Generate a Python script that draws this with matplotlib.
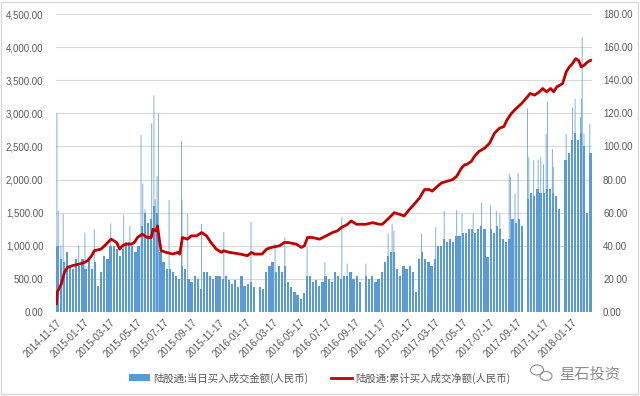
import numpy as np
import pandas as pd
import matplotlib
matplotlib.use('Agg')
import matplotlib.pyplot as plt
from matplotlib.ticker import FuncFormatter, MultipleLocator
from matplotlib.patches import Rectangle, Patch, Ellipse
from matplotlib.lines import Line2D

# typical daily buy turnover per week (Mon-Fri), first week starts 2014-11-17
week_start = '2014-11-17'
weekly_buy = [
    1000, 800, 750, 900, 700, 650, 800, 700, 800, 650,
    800, 650, 750, 400, 600, 850, 800, 1000, 1000, 950,
    850, 950, 1050, 1050, 1000, 900, 1000, 1300, 1500, 1350,
    1400, 1600, 1500, 900, 750, 650, 650, 600, 550, 500,
    700, 650, 500, 450, 550, 500, 350, 600, 600, 550,
    500, 550, 550, 500, 550, 480, 420, 480, 380, 550,
    400, 420, 450, 380, 0, 380, 350, 600, 700, 750,
    600, 700, 600, 700, 450, 380, 300, 250, 200, 280,
    550, 550, 450, 480, 400, 450, 550, 500, 450, 600,
    550, 500, 550, 550, 600, 500, 550, 450, 0, 550,
    500, 550, 450, 500, 600, 750, 850, 900, 900, 650,
    550, 700, 650, 700, 600, 300, 800, 900, 800, 750,
    700, 800, 1000, 1000, 1100, 1050, 1100, 1050, 1150, 1150,
    1200, 1200, 1250, 1250, 1200, 1250, 1300, 1250, 830, 1250,
    1200, 1300, 1250, 1100, 1050, 1100, 1400, 1350, 1400, 1300,
    0, 1700, 1800, 1750, 1850, 1800, 1800, 1850, 1850, 1800,
    1750, 1550, 0, 2300, 2400, 2600, 2700, 2600, 2700, 2500,
    1500, 2400,
]

# single days well above the weekly level
spike_dates = [
    '2014-11-17', '2014-11-20', '2014-11-26', '2014-12-01', '2015-01-05',
    '2015-01-19', '2015-02-09', '2015-03-18', '2015-04-16', '2015-04-30',
    '2015-05-25', '2015-05-29', '2015-06-03', '2015-06-18', '2015-06-23',
    '2015-06-26', '2015-06-30', '2015-07-03', '2015-07-27', '2015-08-24',
    '2015-08-25', '2015-09-07', '2015-10-08', '2015-11-27', '2016-01-27',
    '2016-03-21', '2016-04-12', '2016-06-01', '2016-07-11', '2016-08-18',
    '2016-08-30', '2016-10-11', '2016-11-30', '2016-12-09', '2016-12-13',
    '2017-02-13', '2017-03-17', '2017-04-05', '2017-05-03', '2017-05-15',
    '2017-06-09', '2017-06-28', '2017-07-18', '2017-07-31', '2017-08-08',
    '2017-08-29', '2017-09-01', '2017-09-11', '2017-09-18', '2017-10-09',
    '2017-10-12', '2017-10-23', '2017-11-02', '2017-11-08', '2017-11-14',
    '2017-11-20', '2017-11-23', '2017-12-04', '2017-12-06', '2018-01-04',
    '2018-01-18', '2018-01-24', '2018-02-05', '2018-02-07', '2018-02-09',
    '2018-02-13', '2018-02-26',
]
spike_values = [
    3000, 1530, 1000, 1480, 1000,
    1200, 1250, 1340, 1460, 1300,
    2670, 1940, 1550, 2850, 3270,
    1700, 2050, 3000, 1690, 2580,
    1700, 1480, 1330, 1210, 1360,
    1030, 1130, 980, 750, 1430,
    730, 730, 1180, 1330, 1230,
    1180, 1280, 1530, 1540, 1480,
    1480, 1650, 1610, 1530, 1480,
    2090, 2040, 1790, 2100, 3070,
    2340, 2290, 2300, 2340, 2230,
    2690, 3170, 2460, 2190, 2690,
    3090, 3220, 2940, 3220, 4150,
    2690, 2840,
]

# cumulative net buy (right axis)
cum_dates = [
    '2014-11-17', '2014-11-19', '2014-11-28', '2014-12-05', '2014-12-12',
    '2014-12-23', '2015-01-08', '2015-01-19', '2015-01-26', '2015-02-04',
    '2015-02-10', '2015-02-25', '2015-03-05', '2015-03-16', '2015-03-20',
    '2015-04-01', '2015-04-08', '2015-04-14', '2015-04-23', '2015-05-04',
    '2015-05-11', '2015-05-18', '2015-05-29', '2015-06-09', '2015-06-18',
    '2015-06-22', '2015-06-29', '2015-07-02', '2015-07-06', '2015-07-10',
    '2015-07-22', '2015-08-05', '2015-08-17', '2015-08-21', '2015-08-27',
    '2015-09-07', '2015-09-16', '2015-09-28', '2015-10-09', '2015-10-20',
    '2015-10-30', '2015-11-11', '2015-11-23', '2015-11-27', '2015-12-11',
    '2016-01-04', '2016-01-20', '2016-01-29', '2016-02-05', '2016-02-22',
    '2016-03-03', '2016-03-14', '2016-04-01', '2016-04-12', '2016-04-19',
    '2016-05-09', '2016-05-20', '2016-05-27', '2016-06-03', '2016-06-14',
    '2016-06-30', '2016-07-15', '2016-07-29', '2016-08-09', '2016-08-18',
    '2016-09-01', '2016-09-09', '2016-09-21', '2016-10-13', '2016-10-27',
    '2016-11-11', '2016-11-18', '2016-11-30', '2016-12-15', '2016-12-27',
    '2017-01-06', '2017-01-18', '2017-01-25', '2017-02-10', '2017-02-14',
    '2017-02-21', '2017-03-03', '2017-03-10', '2017-03-22', '2017-03-31',
    '2017-04-13', '2017-04-25', '2017-05-04', '2017-05-15', '2017-05-22',
    '2017-05-26', '2017-06-06', '2017-06-13', '2017-06-23', '2017-07-06',
    '2017-07-17', '2017-07-28', '2017-08-08', '2017-08-18', '2017-08-25',
    '2017-09-04', '2017-09-15', '2017-09-27', '2017-10-10', '2017-10-16',
    '2017-10-26', '2017-11-06', '2017-11-13', '2017-11-22', '2017-12-01',
    '2017-12-08', '2017-12-15', '2017-12-28', '2018-01-05', '2018-01-12',
    '2018-01-19', '2018-01-26', '2018-02-02', '2018-02-08', '2018-02-14',
    '2018-02-22', '2018-03-01',
]
cum_net = [
    5, 12, 17, 24, 27, 28, 29, 30, 31, 34,
    37, 38, 40, 43, 44, 42, 38, 40, 41, 41,
    42, 45, 47, 45, 45, 50, 49, 52, 44, 37,
    36, 35, 36, 35, 45, 44, 46, 46, 48, 46,
    42, 38, 36, 37, 36, 35, 34, 36, 35, 35,
    38, 39, 40, 42, 42, 41, 39, 40, 45, 45,
    44, 46, 48, 49, 51, 53, 55, 53, 53, 54,
    53, 53, 56, 60, 59, 58, 62, 64, 69, 71,
    74, 74, 73, 76, 78, 79, 80, 82, 87, 89,
    89, 91, 94, 97, 99, 102, 108, 111, 112, 116,
    120, 123, 126, 130, 132, 131, 133, 135, 133, 135,
    133, 136, 138, 145, 148, 150, 153, 152, 148, 149,
    151, 152,
]

tick_labels = ['2014-11-17', '2015-01-17', '2015-03-17', '2015-05-17', '2015-07-17',
               '2015-09-17', '2015-11-17', '2016-01-17', '2016-03-17', '2016-05-17',
               '2016-07-17', '2016-09-17', '2016-11-17', '2017-01-17', '2017-03-17',
               '2017-05-17', '2017-07-17', '2017-09-17', '2017-11-17', '2018-01-17']

legend_bar = '陆股通:当日买入成交金额(人民币)'
legend_line = '陆股通:累计买入成交净额(人民币)'
watermark = '星石投资'

plt.rcParams['font.family'] = ['Liberation Sans', 'Noto Sans CJK SC', 'DejaVu Sans']

bar_color = '#5B9BD5'
line_color = '#C00000'
grid_color = '#D9D9D9'
text_color = '#595959'
mark_color = '#8C8C8C'

fig = plt.figure(figsize=(6.4, 3.96), dpi=100)
ax = fig.add_axes([56 / 640, 1 - 312 / 396, 536 / 640, 298 / 396])
ax2 = ax.twinx()

week_dates = pd.date_range(week_start, periods=len(weekly_buy), freq='7D')
ax.bar(week_dates, weekly_buy, width=5, align='edge', color=bar_color, linewidth=0)
ax.bar(pd.to_datetime(spike_dates), spike_values, width=2.0, align='edge',
       color=bar_color, alpha=0.85, linewidth=0, snap=False)

ax2.plot(pd.to_datetime(cum_dates), cum_net, color=line_color, linewidth=2.0,
         solid_joinstyle='round')

ax.set_ylim(0, 4500)
ax2.set_ylim(0, 180)
ax.yaxis.set_major_locator(MultipleLocator(500))
ax2.yaxis.set_major_locator(MultipleLocator(20))
fmt = FuncFormatter(lambda v, p: f'{v:,.2f}')
ax.yaxis.set_major_formatter(fmt)
ax2.yaxis.set_major_formatter(fmt)

ax.set_xlim(pd.Timestamp('2014-11-16'), pd.Timestamp('2018-03-04'))
ax.set_xticks(pd.to_datetime(tick_labels))
ax.set_xticklabels(tick_labels, rotation=45, ha='right', rotation_mode='anchor')

ax.grid(axis='y', color=grid_color, linewidth=0.8)
ax.set_axisbelow(True)
for a in (ax, ax2):
    for s in a.spines.values():
        s.set_visible(False)
    a.tick_params(length=0, colors=text_color, labelsize=7)
ax.tick_params(axis='y', pad=9)
ax.tick_params(axis='x', pad=4)
ax2.tick_params(axis='y', pad=8)

handles = [Patch(facecolor=bar_color, edgecolor='none'),
           Line2D([0], [0], color=line_color, linewidth=2)]
fig.legend(handles, [legend_bar, legend_line], loc='center', ncol=2,
           bbox_to_anchor=(320 / 640, 18 / 396), frameon=False,
           prop={'family': ['Noto Sans CJK SC'], 'size': 7.5},
           labelcolor=text_color, handlelength=2.0, handleheight=0.6,
           handletextpad=0.3, columnspacing=2.2)

# watermark: small chat-bubble icon + name
fig.patches.append(Ellipse((537 / 640, 26 / 396), 13 / 640, 10 / 396,
                           transform=fig.transFigure, fill=False,
                           edgecolor=mark_color, linewidth=0.8))
fig.patches.append(Ellipse((546 / 640, 20 / 396), 12 / 640, 9 / 396,
                           transform=fig.transFigure, fill=False,
                           edgecolor=mark_color, linewidth=0.8))
fig.text(620 / 640, 22 / 396, watermark, ha='right', va='center', fontsize=11,
         color=mark_color, family=['Noto Sans CJK SC'])

fig.patches.append(Rectangle((0.002, 0.004), 0.995, 0.992, transform=fig.transFigure,
                             fill=False, edgecolor=grid_color, linewidth=1))

fig.savefig('out.png', dpi=100)
